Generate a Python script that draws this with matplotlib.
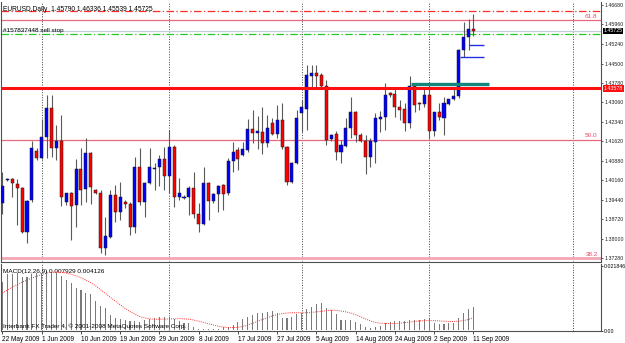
import pandas as pd
import matplotlib.pyplot as plt
from matplotlib.transforms import blended_transform_factory

plt.rcParams['font.family'] = ['Liberation Sans', 'DejaVu Sans']

# MT4 daily bars incl. Sunday bars (Saturdays skipped)
dates = [d for d in pd.date_range('2009-05-22', '2009-09-11') if d.dayofweek != 5]

opens = [1.3932, 1.4018, 1.4022, 1.4003, 1.3988, 1.3825, 1.3944, 1.4126, 1.4100, 1.4178,
         1.4285, 1.4137, 1.4163, 1.3936, 1.3970, 1.3925, 1.4059, 1.3984, 1.4118, 1.3981,
         1.3970, 1.3765, 1.3806, 1.3962, 1.3899, 1.3936, 1.3929, 1.3843, 1.4066, 1.3936,
         1.4007, 1.4059, 1.4066, 1.4096, 1.4033, 1.4141, 1.3955, 1.3951, 1.3955, 1.3988,
         1.3892, 1.3854, 1.4007, 1.3940, 1.3966, 1.3999, 1.3970, 1.4089, 1.4129, 1.4111,
         1.4129, 1.4207, 1.4193, 1.4196, 1.4155, 1.4230, 1.4189, 1.4241, 1.4141, 1.4010,
         1.4081, 1.4267, 1.4282, 1.4404, 1.4415, 1.4408, 1.4367, 1.4170, 1.4189, 1.4122,
         1.4144, 1.4211, 1.4271, 1.4185, 1.4163, 1.4103, 1.4159, 1.4245, 1.4252, 1.4341,
         1.4337, 1.4289, 1.4282, 1.4230, 1.4367, 1.4304, 1.4300, 1.4334, 1.4200, 1.4271,
         1.4248, 1.4300, 1.4319, 1.4330, 1.4501, 1.4549, 1.45790]
highs = [1.4048, 1.4025, 1.4025, 1.4022, 1.3992, 1.3944, 1.4163, 1.4137, 1.4245, 1.4334,
         1.4334, 1.4222, 1.4259, 1.3970, 1.3973, 1.4096, 1.4137, 1.4174, 1.4122, 1.3984,
         1.3981, 1.3880, 1.3981, 1.3999, 1.4010, 1.3944, 1.3936, 1.4103, 1.4137, 1.4010,
         1.4137, 1.4081, 1.4111, 1.4141, 1.4204, 1.4148, 1.4025, 1.3962, 1.3996, 1.4048,
         1.3932, 1.4066, 1.4010, 1.3970, 1.3999, 1.4003, 1.4100, 1.4159, 1.4141, 1.4159,
         1.4245, 1.4278, 1.4256, 1.4289, 1.4259, 1.4248, 1.4297, 1.4304, 1.4144, 1.4085,
         1.4278, 1.4315, 1.4445, 1.4445, 1.4445, 1.4415, 1.4389, 1.4189, 1.4200, 1.4167,
         1.4248, 1.4326, 1.4274, 1.4193, 1.4185, 1.4174, 1.4267, 1.4274, 1.4378, 1.4345,
         1.4363, 1.4315, 1.4304, 1.4404, 1.4375, 1.4308, 1.4363, 1.4378, 1.4271, 1.4304,
         1.4326, 1.4319, 1.4360, 1.4505, 1.4605, 1.4616, 1.46336]
lows = [1.3892, 1.4014, 1.3955, 1.3851, 1.3821, 1.3784, 1.3936, 1.4092, 1.4096, 1.4100,
        1.4103, 1.4092, 1.3921, 1.3925, 1.3795, 1.3843, 1.3925, 1.3936, 1.3929, 1.3966,
        1.3747, 1.3739, 1.3802, 1.3862, 1.3869, 1.3914, 1.3814, 1.3821, 1.3925, 1.3880,
        1.4003, 1.3981, 1.3996, 1.3981, 1.3970, 1.3918, 1.3944, 1.3947, 1.3888, 1.3877,
        1.3825, 1.3851, 1.3869, 1.3932, 1.3899, 1.3907, 1.3962, 1.4048, 1.4055, 1.4107,
        1.4122, 1.4155, 1.4133, 1.4115, 1.4141, 1.4185, 1.4174, 1.4133, 1.3999, 1.4007,
        1.4077, 1.4196, 1.4204, 1.4363, 1.4363, 1.4363, 1.4148, 1.4163, 1.4092, 1.4081,
        1.4141, 1.4174, 1.4159, 1.4159, 1.4040, 1.4066, 1.4081, 1.4196, 1.4204, 1.4326,
        1.4252, 1.4241, 1.4200, 1.4211, 1.4271, 1.4278, 1.4289, 1.4170, 1.4181, 1.4241,
        1.4185, 1.4297, 1.4315, 1.4323, 1.4475, 1.4501, 1.45539]
closes = [1.3996, 1.4022, 1.4007, 1.3988, 1.3825, 1.3940, 1.4137, 1.4100, 1.4178, 1.4285,
          1.4137, 1.4163, 1.3955, 1.3970, 1.3921, 1.4059, 1.3981, 1.4118, 1.3992, 1.3970,
          1.3765, 1.3810, 1.3962, 1.3899, 1.3955, 1.3929, 1.3843, 1.4066, 1.3936, 1.4007,
          1.4066, 1.4063, 1.4096, 1.4033, 1.4141, 1.3955, 1.3970, 1.3955, 1.3988, 1.3892,
          1.3854, 1.4007, 1.3940, 1.3966, 1.3996, 1.3966, 1.4089, 1.4122, 1.4096, 1.4133,
          1.4207, 1.4193, 1.4200, 1.4155, 1.4211, 1.4189, 1.4241, 1.4141, 1.4010, 1.4081,
          1.4248, 1.4289, 1.4408, 1.4415, 1.4404, 1.4367, 1.4167, 1.4185, 1.4122, 1.4148,
          1.4211, 1.4271, 1.4185, 1.4163, 1.4103, 1.4163, 1.4248, 1.4252, 1.4334, 1.4334,
          1.4289, 1.4278, 1.4230, 1.4367, 1.4297, 1.4300, 1.4334, 1.4200, 1.4271, 1.4252,
          1.4304, 1.4319, 1.4330, 1.4501, 1.4549, 1.4579, 1.45725]

macd = [0.0164, 0.0191, 0.0191, 0.0194, 0.0181, 0.0181, 0.0191, 0.0194, 0.0194, 0.0201,
        0.0198, 0.0194, 0.0184, 0.0170, 0.0160, 0.0143, 0.0136, 0.0126, 0.0122, 0.0098,
        0.0081, 0.0074, 0.0050, 0.0040, 0.0037, 0.0033, 0.0030, 0.0030, 0.0026, 0.0033,
        0.0037, 0.0040, 0.0043, 0.0043, 0.0043, 0.0037, 0.0030, 0.0023, 0.0023, 0.0009,
        0.0002, 0.0002, 0.0002, 0.0002, 0.0002, 0.0009, 0.0009, 0.0016, 0.0026, 0.0037,
        0.0043, 0.0050, 0.0057, 0.0057, 0.0061, 0.0064, 0.0057, 0.0040, 0.0040, 0.0043,
        0.0054, 0.0057, 0.0071, 0.0078, 0.0088, 0.0091, 0.0074, 0.0068, 0.0054, 0.0033,
        0.0033, 0.0033, 0.0026, 0.0019, 0.0009, 0.0006, 0.0009, 0.0013, 0.0023, 0.0026,
        0.0030, 0.0030, 0.0030, 0.0033, 0.0033, 0.0033, 0.0037, 0.0037, 0.0023, 0.0019,
        0.0019, 0.0023, 0.0023, 0.0040, 0.0057, 0.0071, 0.007929]
signal = [0.0126, 0.0136, 0.0146, 0.0155, 0.0163, 0.0170, 0.0177, 0.0183, 0.0189, 0.0194,
          0.0197, 0.0198, 0.0197, 0.0194, 0.0190, 0.0185, 0.0178, 0.0170, 0.0161, 0.0150,
          0.0137, 0.0124, 0.0111, 0.0098, 0.0085, 0.0073, 0.0062, 0.0053, 0.0045, 0.0040,
          0.0037, 0.0036, 0.0036, 0.0036, 0.0037, 0.0037, 0.0038, 0.0037, 0.0036, 0.0033,
          0.0029, 0.0025, 0.0020, 0.0016, 0.0012, 0.0009, 0.0007, 0.0007, 0.0008, 0.0011,
          0.0016, 0.0022, 0.0029, 0.0035, 0.0041, 0.0047, 0.0052, 0.0055, 0.0057, 0.0058,
          0.0058, 0.0058, 0.0058, 0.0059, 0.0061, 0.0063, 0.0065, 0.0067, 0.0066, 0.0064,
          0.0061, 0.0057, 0.0051, 0.0044, 0.0037, 0.0030, 0.0025, 0.0022, 0.0021, 0.0021,
          0.0021, 0.0022, 0.0024, 0.0026, 0.0028, 0.0030, 0.0031, 0.0031, 0.0031, 0.0030,
          0.0029, 0.0028, 0.0028, 0.0029, 0.0031, 0.0035, 0.004126]

price_ticks = [1.46680, 1.45960, 1.45240, 1.44500, 1.43780, 1.43060, 1.42340,
               1.41620, 1.40880, 1.40160, 1.39440, 1.38720, 1.38000, 1.37280]

# levels on the chart
stop_level = 1.4646
fib_levels = {'61.8': 1.4612, '50.0': 1.4168, '38.2': 1.3729}
bid = 1.45725
sell_stop = 1.4560
resistance = 1.43578
teal_level = 1.4376
order_marks = [(1.4519, 95.1, 98.2), (1.4475, 93.3, 98.2)]

n = len(dates)
xs = list(range(n))

fig = plt.figure(figsize=(6.25, 3.43), dpi=100)
ax = fig.add_axes([0.0016, 0.2362, 0.9600, 0.7580])
axm = fig.add_axes([0.0016, 0.0350, 0.9600, 0.1953])

xlim = (-0.3, 122.0)

# candles
for i in xs:
    o, h, l, c = opens[i], highs[i], lows[i], closes[i]
    ax.vlines(i, l, h, color='#5a5a5a', lw=0.8, zorder=3)
    col = '#0000ff' if c >= o else '#ff0000'
    body = max(abs(c - o), 0.00012)
    ax.bar(i, body, bottom=min(o, c), width=0.62, color=col,
           edgecolor='#1a1a1a', linewidth=0.35, zorder=4)

# horizontal lines
ax.axhline(stop_level, color='#ff2a2a', lw=0.9, ls=(0, (6, 2, 1, 2)), zorder=2)
for name, lv in fib_levels.items():
    lw = 2.0 if name == '38.2' else 0.9
    col = '#f4a6b4' if name == '38.2' else '#e8687e'
    ax.axhline(lv, color=col, lw=lw, zorder=2)
    ax.text(121.3, lv + 0.0004, name, color='#e04a6a', fontsize=4.6,
            ha='right', va='bottom')
ax.axhline(bid, color='#c4ccd8', lw=0.9, zorder=2)
ax.axhline(sell_stop, color='#22cc22', lw=0.9, ls=(0, (6, 2, 1, 2)), zorder=2)
ax.axhline(resistance, color='#ff1010', lw=2.2, zorder=5)
ax.hlines(teal_level, 83.3, 99.2, color='#11877d', lw=2.4, zorder=6)
for lv, x0, x1 in order_marks:
    ax.hlines(lv, x0, x1, color='#2030e0', lw=1.0, zorder=6)

# month separators
seps = [i for i in range(1, n) if dates[i].month != dates[i - 1].month] + [116.3]
for a in (ax, axm):
    for s in seps:
        a.axvline(s, color='#404040', lw=0.7, ls=(0, (1, 1.6)), zorder=1)

ax.set_xlim(*xlim)
ax.set_ylim(1.3713, 1.4679)
ax.set_xticks([])
ax.yaxis.tick_right()
ax.set_yticks(price_ticks)
ax.set_yticklabels([f'{p:.5f}' for p in price_ticks], fontsize=3.8)
ax.tick_params(axis='y', length=1.5, width=0.5, pad=0.8, colors='#202020')

for a in (ax, axm):
    a.spines['top'].set_visible(False)
    for sp in ('left', 'right', 'bottom'):
        a.spines[sp].set_color('#505050')
        a.spines[sp].set_linewidth(0.8)

# price tags
tr = blended_transform_factory(ax.transAxes, ax.transData)
ax.text(1.0045, bid, f'{bid:.5f}', transform=tr, fontsize=3.8, color='white',
        va='center', ha='left', zorder=10,
        bbox=dict(facecolor='black', edgecolor='none', pad=0.4))
ax.text(1.0045, resistance, f'{resistance:.5f}', transform=tr, fontsize=3.8,
        color='white', va='center', ha='left', zorder=10,
        bbox=dict(facecolor='#ff1010', edgecolor='none', pad=0.4))

ax.text(0.004, 0.985, 'EURUSD,Daily  1.45790 1.46336 1.45539 1.45725',
        transform=ax.transAxes, fontsize=4.8, va='top', ha='left')
ax.text(0.004, sell_stop + 0.0003, '#157837448 sell stop', transform=tr,
        fontsize=4.6, va='bottom', ha='left')

# MACD window
axm.bar(xs, macd, width=0.22, color='#7a7a7a', zorder=3)
axm.plot(xs, signal, color='#ff3030', lw=0.7, ls=(0, (1, 1.2)), zorder=4)
axm.set_xlim(*xlim)
axm.set_ylim(-0.00046, 0.02252)
axm.yaxis.tick_right()
axm.set_yticks([0.021846, -0.00046])
axm.set_yticklabels(['0.021846', '0.00'], fontsize=3.8)
axm.tick_params(axis='y', length=1.5, width=0.5, pad=0.8)
lab_idx = list(range(0, n, 8))
axm.set_xticks(lab_idx)
axm.set_xticklabels([f'{dates[i].day} {dates[i]:%b %Y}' for i in lab_idx],
                    fontsize=4.7, ha='left')
axm.tick_params(axis='x', length=2, width=0.5, pad=1.5)
axm.text(0.004, 0.93, 'MACD(12,26,9) 0.007929 0.004126', transform=axm.transAxes,
         fontsize=4.6, va='top', ha='left')
axm.text(0.004, 0.03, 'Interbank FX Trader 4, \u00a9 2001-2008 MetaQuotes Software Corp.',
         transform=axm.transAxes, fontsize=4.6, va='bottom', ha='left', zorder=6)

fig.savefig('out.png', dpi=100, facecolor='white')
